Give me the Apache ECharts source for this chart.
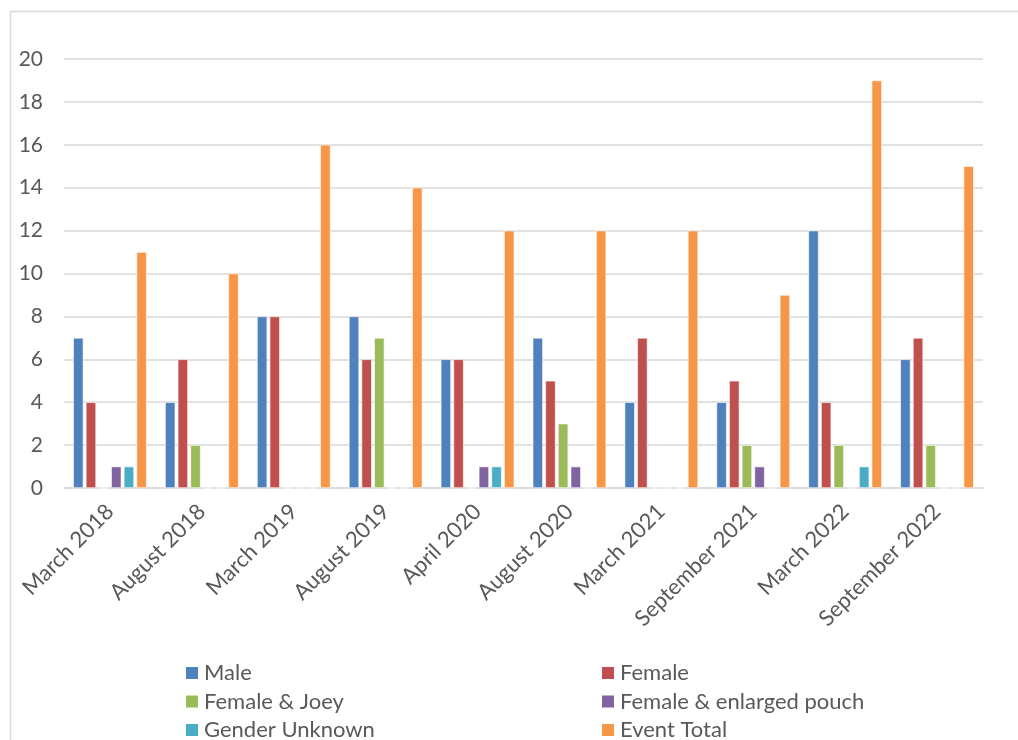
<!DOCTYPE html>
<html>
<head>
<meta charset="utf-8">
<script src="https://cdn.jsdelivr.net/npm/echarts@6/dist/echarts.min.js"></script>
<style>
  html, body { margin: 0; padding: 0; background: #fff; }
  #chart { width: 1018px; height: 740px; }
</style>
</head>
<body>
<div id="chart"></div>
<script>
// Survey events and counts by animal class
const categories = ['March 2018', 'August 2018', 'March 2019', 'August 2019', 'April 2020',
  'August 2020', 'March 2021', 'September 2021', 'March 2022', 'September 2022'];
const male = [7, 4, 8, 8, 6, 7, 4, 4, 12, 6];
const female = [4, 6, 8, 6, 6, 5, 7, 5, 4, 7];
const femaleJoey = [0, 2, 0, 7, 0, 3, 0, 2, 2, 2];
const femalePouch = [1, 0, 0, 0, 1, 1, 0, 1, 0, 0];
const genderUnknown = [1, 0, 0, 0, 1, 0, 0, 0, 1, 0];
const eventTotal = [11, 10, 16, 14, 12, 12, 12, 9, 19, 15];
const yTicks = [0, 2, 4, 6, 8, 10, 12, 14, 16, 18, 20];

const seriesDefs = [
  ['Male', male, '#4F81BD'],
  ['Female', female, '#C0504D'],
  ['Female & Joey', femaleJoey, '#9BBB59'],
  ['Female & enlarged pouch', femalePouch, '#8064A2'],
  ['Gender Unknown', genderUnknown, '#4BACC6'],
  ['Event Total', eventTotal, '#F79646']
];

const FONT = 'Lato, "Open Sans", sans-serif';
const chart = echarts.init(document.getElementById('chart'), null, { renderer: 'canvas' });

const legendText = { fontFamily: FONT, fontSize: 22, color: '#595959' };
const legendBase = {
  orient: 'vertical', top: 657, height: 120, itemGap: 6.5,
  itemWidth: 14, itemHeight: 14, icon: 'rect',
  textStyle: legendText
};

chart.setOption({
  animation: false,
  backgroundColor: '#fff',
  graphic: [{
    type: 'rect',
    shape: { x: 10.5, y: 11.5, width: 1030, height: 760 },
    style: { fill: 'none', stroke: '#d9d9d9', lineWidth: 1.5 },
    silent: true
  }],
  grid: { left: 64, right: 35, top: 59, bottom: 252, containLabel: false },
  legend: [
    Object.assign({}, legendBase, { left: 179, data: ['Male', 'Female & Joey', 'Gender Unknown'] }),
    Object.assign({}, legendBase, { left: 595, data: ['Female', 'Female & enlarged pouch', 'Event Total'] })
  ],
  xAxis: {
    type: 'category',
    data: categories,
    axisLine: { show: true, lineStyle: { color: '#d9d9d9', width: 1.5 } },
    axisTick: { show: false },
    axisLabel: {
      interval: 0, rotate: 45, margin: 20,
      fontFamily: FONT, fontSize: 22, color: '#595959'
    }
  },
  yAxis: {
    type: 'value',
    min: yTicks[0], max: yTicks[yTicks.length - 1], interval: yTicks[1] - yTicks[0],
    axisLine: { show: false },
    axisTick: { show: false },
    splitLine: { lineStyle: { color: '#d9d9d9', width: 1.5 } },
    axisLabel: { margin: 21, fontFamily: FONT, fontSize: 21, color: '#595959' }
  },
  series: seriesDefs.map(([name, values, color]) => ({
    name,
    type: 'bar',
    data: values,
    barGap: '24%',
    barCategoryGap: '20%',
    itemStyle: { color, borderColor: '#ffffff', borderWidth: 0.6 }
  }))
});
</script>
</body>
</html>
